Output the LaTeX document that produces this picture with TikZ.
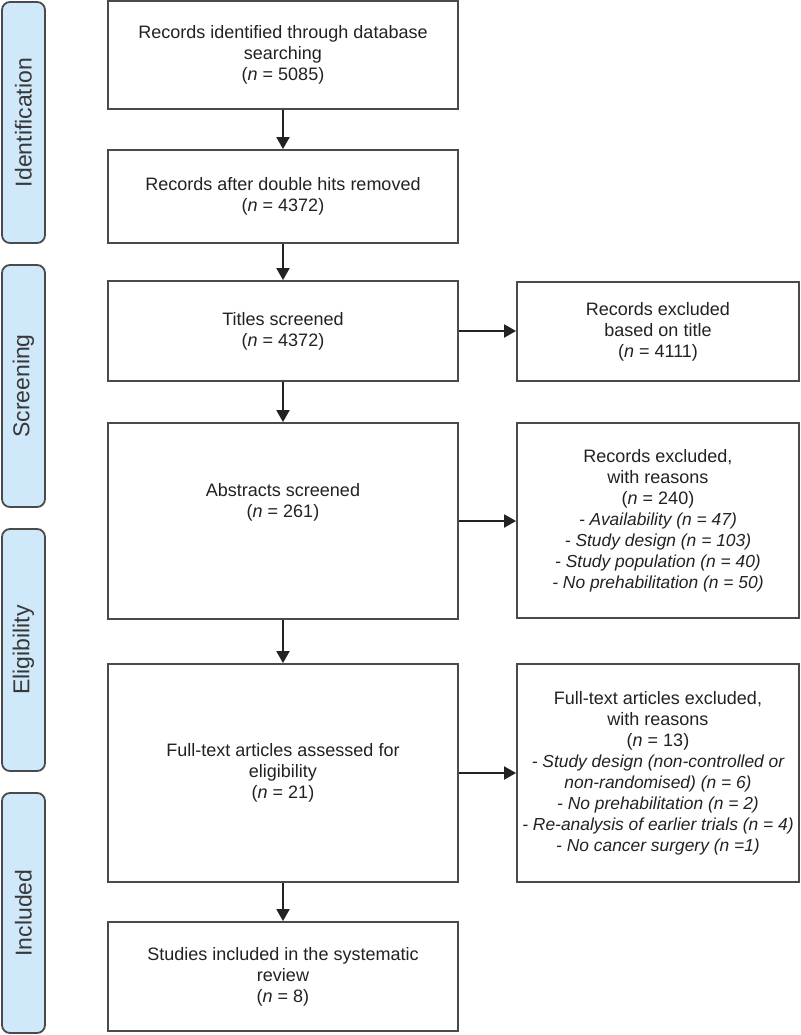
\documentclass[tikz,border=0pt]{standalone}
\usepackage{fontspec}
\setmainfont{Liberation Sans}
\usepackage{tikz}
\usetikzlibrary{shapes,arrows.meta,positioning}
\definecolor{edgegray}{HTML}{4A4A4A}
\definecolor{stagefill}{HTML}{CFE9FA}
\definecolor{inkgray}{HTML}{222222}
\newcommand{\nval}[1]{(\textit{n} = #1)}
\newcommand{\rsn}[1]{{\fontsize{8.7}{10.5}\selectfont\itshape #1}}
\tikzstyle{block} = [rectangle, draw=edgegray, line width=0.9pt, fill=white,
    align=center, text=inkgray, minimum width=175pt, inner sep=2pt,
    font=\fontsize{9}{10.5}\selectfont]
\tikzstyle{exclbox} = [block, minimum width=141pt]
\tikzstyle{plain} = [rectangle, align=center, text=inkgray, inner sep=0pt,
    font=\fontsize{9}{10.5}\selectfont]
\tikzstyle{sidebox} = [rectangle, rounded corners=4pt, draw=edgegray,
    line width=0.9pt, fill=stagefill, rotate=90, minimum height=21.5pt,
    text=inkgray!90, font=\fontsize{11.5}{13}\selectfont]
\tikzstyle{line} = [draw=inkgray, line width=0.9pt,
    -{Triangle[length=6pt,width=6.5pt]}]

\begin{document}
\begin{tikzpicture}[x=0.5pt, y=-0.5pt]
  \useasboundingbox (0,0) rectangle (800,1035);
  % Place stage labels
  \node[sidebox, minimum width=120.5pt] (stIdent) at (23.5,122.5) {Identification};
  \node[sidebox, minimum width=121pt] (stScreen) at (23.5,386) {Screening};
  \node[sidebox, minimum width=121pt] (stElig) at (23.5,650) {Eligibility};
  \node[sidebox, minimum width=120pt] (stIncl) at (23.5,913) {Included};

  % Place main column
  \node[block, minimum height=54pt] (ident) at (283,55)
    {Records identified through database\\searching\\\nval{5085}};
  \node[block, minimum height=46.5pt] (dedup) at (283,196.5)
    {Records after double hits removed\\\nval{4372}};
  \node[block, minimum height=50pt] (titles) at (283,331)
    {Titles screened\\\nval{4372}};
  \node[block, minimum height=98pt] (abstr) at (283,521) {};
  \node[plain] (abstrText) at (283,502) {Abstracts screened\\\nval{261}};
  \node[block, minimum height=109pt] (fulltext) at (283,773)
    {Full-text articles assessed for\\eligibility\\\nval{21}};
  \node[block, minimum height=54.5pt] (incl) at (283,976.5)
    {Studies included in the systematic\\review\\\nval{8}};

  % Place exclusion boxes
  \node[exclbox, minimum height=49.5pt] (exTitle) at (658,331.5)
    {Records excluded\\based on title\\\nval{4111}};
  \node[exclbox, minimum height=97.5pt] (exAbstr) at (658,520.5)
    {Records excluded,\\with reasons\\\nval{240}\\
     \rsn{- Availability (n = 47)}\\
     \rsn{- Study design (n = 103)}\\
     \rsn{- Study population (n = 40)}\\
     \rsn{- No prehabilitation (n = 50)}};
  \node[exclbox, minimum height=109pt] (exFull) at (658,773)
    {Full-text articles excluded,\\with reasons\\\nval{13}\\
     \rsn{- Study design (non-controlled or}\\
     \rsn{non-randomised) (n = 6)}\\
     \rsn{- No prehabilitation (n = 2)}\\
     \rsn{- Re-analysis of earlier trials (n = 4)}\\
     \rsn{- No cancer surgery (n =1)}};

  % Draw edges
  \path [line] (ident) -- (dedup);
  \path [line] (dedup) -- (titles);
  \path [line] (titles) -- (abstr);
  \path [line] (abstr) -- (fulltext);
  \path [line] (fulltext) -- (incl);
  \path [line] (titles.east) -- (titles.east -| exTitle.west);
  \path [line] (abstr.east) -- (abstr.east -| exAbstr.west);
  \path [line] (fulltext.east) -- (fulltext.east -| exFull.west);
\end{tikzpicture}
\end{document}
